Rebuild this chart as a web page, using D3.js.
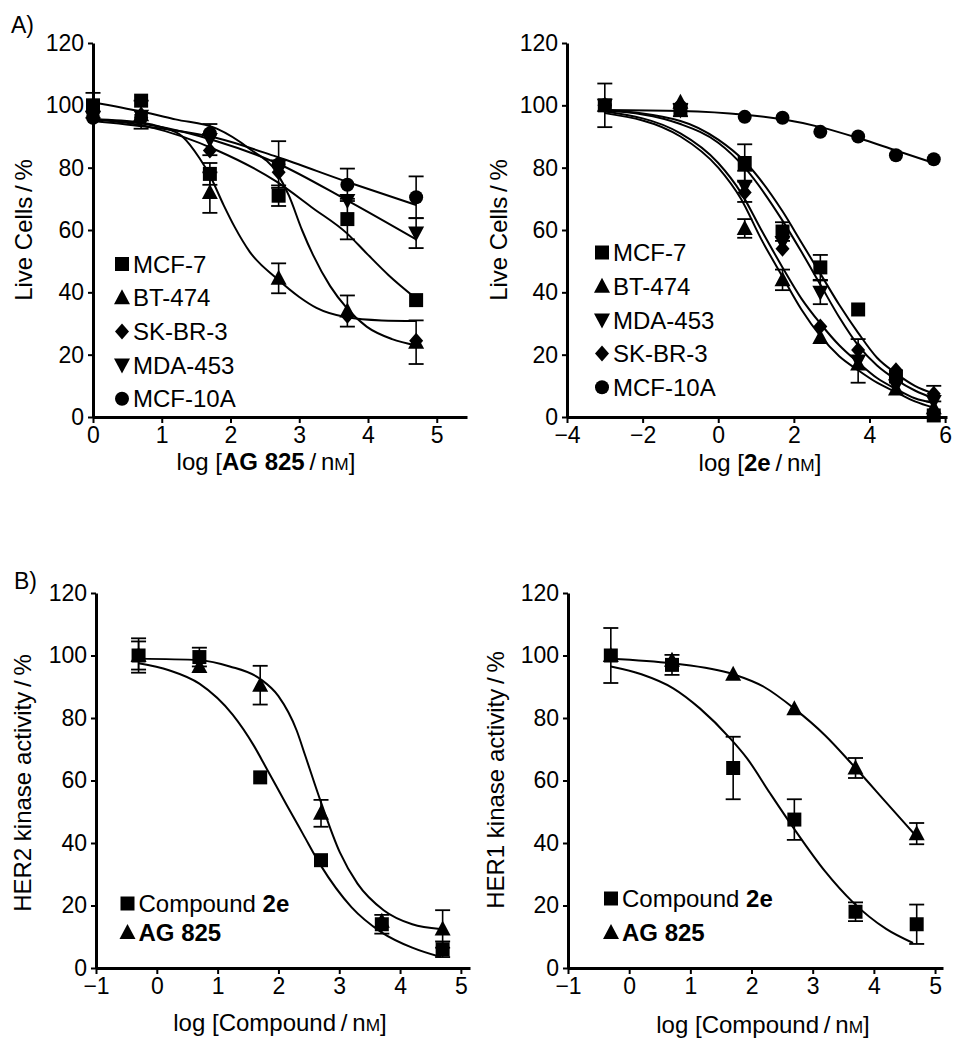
<!DOCTYPE html>
<html>
<head>
<meta charset="utf-8">
<script src="https://cdn.jsdelivr.net/npm/d3@7"></script>
<style>
  body { margin: 0; background: #fff; }
  text { font-family: "Liberation Sans", Arial, Helvetica, sans-serif; fill: #000; }
</style>
</head>
<body>
<svg id="chart" width="954" height="1050"></svg>
<script>
// ---- data ----
var yTicks = [0, 20, 40, 60, 80, 100, 120];

// panel A left : AG 825
var doseA1 = [0, 0.7, 1.7, 2.7, 3.7, 4.7];
var a1Mcf7 = [100, 101.5, 78, 71, 63.5, 37.5];
var a1Mcf7Err = [4, 0, 3.5, 3.3, 6.5, 0];
var a1Bt474 = [100, 97, 72, 44.5, 34, 24];
var a1Bt474Err = [0, 4.5, 6.5, 4.8, 5, 7];
var a1Skbr3 = [96, 97, 85.5, 78.5, 32.5, 24.5];
var a1Skbr3Err = [0, 0, 0, 0, 0, 0];
var a1Mda453 = [96, 96.5, 89, 80.5, 69.5, 59];
var a1Mda453Err = [0, 0, 5, 0, 0, 4.8];
var a1Mcf10a = [96, 96, 91, 81, 74.5, 70.5];
var a1Mcf10aErr = [0, 0, 0, 7.5, 5.2, 6.7];

var a1Mcf7Fit = [[0, 95.5], [0.83, 93], [1.8, 85.6], [2.67, 75.5], [3.2, 67], [3.69, 59], [3.98, 52.5], [4.3, 45.5], [4.7, 38]];
var a1Bt474Fit = [[0, 95.5], [0.7, 94.5], [1.0, 93], [1.3, 90], [1.55, 83], [1.7, 77.5], [1.9, 68], [2.06, 61], [2.28, 53], [2.67, 44.5], [3.0, 38.5], [3.25, 35], [3.69, 32], [4.2, 31], [4.7, 30.8]];
var a1Skbr3Fit = [[0, 101], [0.7, 98], [1.2, 95.5], [1.8, 92.5], [2.28, 86], [2.67, 78.5], [2.85, 71], [3.04, 60], [3.2, 52], [3.45, 42], [3.69, 35], [3.98, 29], [4.35, 25], [4.7, 23]];
var a1Mda453Fit = [[0, 95.5], [0.83, 93.7], [1.8, 88.5], [2.67, 81.5], [3.69, 69.6], [4.7, 57]];
var a1Mcf10aFit = [[0, 95], [0.83, 93], [1.8, 89.5], [2.67, 83.5], [3.69, 75.5], [4.7, 68]];

// panel A right : 2e
var doseA2 = [-3, -1, 0.7, 1.7, 2.7, 3.7, 4.7, 5.7];
var a2Mcf7 = [100, 98.5, 81.5, 59.5, 48, 34.5, 13, 0.5];
var a2Mcf7Err = [7, 0, 6, 3, 4, 0, 0, 0];
var a2Bt474 = [100, 101, 60.5, 44, 25.5, 17, 9, 3];
var a2Bt474Err = [0, 0, 3, 3.3, 0, 0, 0, 0];
var a2Mda453 = [100, 98.5, 74, 56, 40, 18, 10, 5];
var a2Mda453Err = [0, 2, 5, 0, 3.8, 7, 0, 0];
var a2Skbr3 = [100, 99, 72, 54, 29, 21.5, 15, 7.5];
var a2Skbr3Err = [0, 0, 0, 0, 0, 0, 0, 2.5];
var a2Mcf10a = [100, 99.5, 96.3, 96, 91.5, 90, 84, 82.7];
var a2Mcf10aErr = [0, 0, 0, 0, 0, 0, 0, 0];

var a2Mcf7Fit = [[-3, 98.5], [-1, 95], [0, 89], [0.7, 82], [1.7, 66], [2.2, 56], [2.7, 46], [3.2, 36], [3.7, 27], [4.2, 19], [4.7, 14], [5.2, 10], [5.7, 7.5]];
var a2Mda453Fit = [[-3, 98.5], [-1, 94], [0, 88], [0.7, 80], [1.7, 63], [2.2, 53], [2.7, 42.5], [3.2, 32], [3.7, 23], [4.2, 16.5], [4.7, 12], [5.2, 8.5], [5.7, 6]];
var a2Skbr3Fit = [[-3, 98], [-1, 91], [0, 81.5], [0.6, 72], [1.14, 60], [1.7, 48], [2.2, 38], [2.7, 30], [3.2, 23], [3.7, 17.5], [4.2, 12.5], [4.7, 9], [5.2, 6], [5.7, 4.5]];
var a2Bt474Fit = [[-3, 97.5], [-1, 90], [0, 80], [0.6, 70], [1.14, 57], [1.7, 45], [2.2, 34.5], [2.7, 26], [3.2, 19.5], [3.7, 15], [4.2, 11], [4.7, 8], [5.2, 5], [5.7, 3]];
var a2Mcf10aFit = [[-3, 98.5], [-1, 98.2], [0.7, 97], [1.7, 95.5], [2.7, 93], [3.7, 89.5], [4.7, 85.5], [5.7, 81.5]];

// panel B : kinase assays
var doseB = [-0.3, 0.7, 1.7, 2.7, 3.7, 4.7];
var b1Cmpd = [100, 99.5, 61, 34.5, 14, 6];
var b1CmpdErr = [5.5, 3, 0, 0, 3, 2.5];
var b1Ag = [100, 96.5, 90.5, 49.5, 15, 12.5];
var b1AgErr = [4.5, 0, 6.2, 4.3, 0, 6];
var b1CmpdFit = [[-0.3, 97.5], [0.2, 95.3], [0.7, 91], [1.25, 81], [1.6, 71], [1.8, 64], [2.14, 52], [2.4, 43], [2.69, 33], [3.2, 19.5], [3.69, 11.5], [4.2, 6.5], [4.67, 3.5]];
var b1AgFit = [[-0.3, 99], [0.7, 98.5], [1.2, 96.5], [1.7, 92.5], [2.0, 87], [2.3, 76], [2.44, 68], [2.7, 53], [3.01, 37], [3.3, 27], [3.73, 18.5], [4.2, 14], [4.66, 12.5]];

var b2Cmpd = [100, 97, 64, 47.5, 18, 14];
var b2CmpdErr = [8.8, 3.2, 10, 6.5, 3, 6.3];
var b2Ag = [100, 98.5, 94, 83, 64, 43];
var b2AgErr = [0, 0, 0, 0, 3.2, 3.4];
var b2CmpdFit = [[-0.3, 96.5], [0.2, 94], [0.72, 89.5], [1.16, 83], [1.65, 73.5], [1.93, 67], [2.3, 56], [2.68, 45], [3.2, 31], [3.66, 21], [4.2, 12.5], [4.64, 8]];
var b2AgFit = [[-0.3, 99], [0.7, 97.5], [1.7, 94], [2.2, 90], [2.7, 83], [3.2, 74.5], [3.7, 64], [4.2, 53], [4.7, 42]];

// ---- drawing ----
var svg = d3.select("#chart");
var fontSize = "24px";
var tickFont = "23px";

function symbolPath(type) {
  if (type == "square") return "M-7,-7h14v14h-14Z";
  if (type == "up") return "M0,-8.5L8,6.5L-8,6.5Z";
  if (type == "down") return "M0,8.5L8,-6.5L-8,-6.5Z";
  if (type == "diamond") return "M0,-8L7,0L0,8L-7,0Z";
  return "M7,0A7,7 0 1,1 -7,0A7,7 0 1,1 7,0Z";
}

function addParts(sel, parts) {
  parts.forEach(function(p) {
    var t = sel.append("tspan").text(p.t);
    if (p.b) t.style("font-weight", "bold");
    if (p.small) t.style("font-size", "0.72em");
  });
}

function drawPanel(p) {
  var x = d3.scaleLinear().domain(p.xDomain).range(p.xRange);
  var y = d3.scaleLinear().domain([0, 120]).range(p.yRange);
  var g = svg.append("g");

  var line = d3.line()
      .x(function(d) { return x(d[0]); })
      .y(function(d) { return y(d[1]); })
      .curve(d3.curveMonotoneX);

  // fitted curves
  p.series.forEach(function(s) {
    g.append("path")
      .attr("d", line(s.fit))
      .attr("fill", "none")
      .attr("stroke", "#000")
      .attr("stroke-width", 2);
  });

  // error bars
  p.series.forEach(function(s) {
    s.y.forEach(function(v, i) {
      var e = s.err[i];
      if (!e) return;
      var cx = x(s.x[i]);
      g.append("line").attr("x1", cx).attr("x2", cx)
        .attr("y1", y(v - e)).attr("y2", y(v + e))
        .attr("stroke", "#000").attr("stroke-width", 1.6);
      [v - e, v + e].forEach(function(w) {
        g.append("line").attr("x1", cx - 7.5).attr("x2", cx + 7.5)
          .attr("y1", y(w)).attr("y2", y(w))
          .attr("stroke", "#000").attr("stroke-width", 1.8);
      });
    });
  });

  // markers (drawn in reverse so first series ends on top)
  p.series.slice().reverse().forEach(function(s) {
    g.selectAll(null)
      .data(s.y)
      .enter().append("path")
      .attr("d", symbolPath(s.sym))
      .attr("transform", function(d, i) { return "translate(" + x(s.x[i]) + "," + y(d) + ")"; })
      .attr("fill", "#000");
  });

  // axes
  var yAxis = g.append("g")
    .attr("transform", "translate(" + p.xRange[0] + ",0)")
    .call(d3.axisLeft(y).tickValues(yTicks).tickFormat(d3.format("d"))
      .tickSize(5).tickSizeOuter(0).tickPadding(4));
  var xAxis = g.append("g")
    .attr("transform", "translate(0," + p.yRange[0] + ")")
    .call(d3.axisBottom(x).tickValues(p.xTicks).tickFormat(d3.format("d"))
      .tickSize(6).tickSizeOuter(0).tickPadding(4));

  [yAxis, xAxis].forEach(function(a) {
    a.attr("font-family", null).attr("font-size", null);
    a.select(".domain").attr("stroke", "#000").attr("stroke-width", 3);
    a.selectAll(".tick line").attr("stroke", "#000").attr("stroke-width", 2);
    a.selectAll(".tick text").style("font-size", tickFont).attr("fill", "#000");
  });

  // axis titles
  var yt = g.append("text")
    .attr("transform", "translate(" + p.yTitlePos[0] + "," + p.yTitlePos[1] + ") rotate(-90)")
    .attr("text-anchor", "middle")
    .attr("dy", "0.35em")
    .style("font-size", fontSize);
  addParts(yt, p.yTitle);

  var xt = g.append("text")
    .attr("x", p.xTitlePos[0]).attr("y", p.xTitlePos[1])
    .attr("text-anchor", "middle")
    .style("font-size", fontSize);
  addParts(xt, p.xTitle);

  // legend
  p.legendOrder.forEach(function(s, i) {
    var ly = p.legendPos[1] + i * p.legendStep;
    g.append("path")
      .attr("d", symbolPath(s.sym))
      .attr("transform", "translate(" + p.legendPos[0] + "," + ly + ")")
      .attr("fill", "#000");
    var t = g.append("text")
      .attr("x", p.legendPos[0] + 11).attr("y", ly)
      .attr("dy", "0.36em")
      .style("font-size", fontSize);
    addParts(t, s.label);
  });
}

var nM = [{t: "\u2009/\u2009n"}, {t: "M", small: true}, {t: "]"}];

var a1Series = [
  {label: [{t: "MCF-7"}], sym: "square", x: doseA1, y: a1Mcf7, err: a1Mcf7Err, fit: a1Mcf7Fit},
  {label: [{t: "BT-474"}], sym: "up", x: doseA1, y: a1Bt474, err: a1Bt474Err, fit: a1Bt474Fit},
  {label: [{t: "SK-BR-3"}], sym: "diamond", x: doseA1, y: a1Skbr3, err: a1Skbr3Err, fit: a1Skbr3Fit},
  {label: [{t: "MDA-453"}], sym: "down", x: doseA1, y: a1Mda453, err: a1Mda453Err, fit: a1Mda453Fit},
  {label: [{t: "MCF-10A"}], sym: "circle", x: doseA1, y: a1Mcf10a, err: a1Mcf10aErr, fit: a1Mcf10aFit}
];

var a2Series = [
  {label: [{t: "MCF-7"}], sym: "square", x: doseA2, y: a2Mcf7, err: a2Mcf7Err, fit: a2Mcf7Fit},
  {label: [{t: "BT-474"}], sym: "up", x: doseA2, y: a2Bt474, err: a2Bt474Err, fit: a2Bt474Fit},
  {label: [{t: "MDA-453"}], sym: "down", x: doseA2, y: a2Mda453, err: a2Mda453Err, fit: a2Mda453Fit},
  {label: [{t: "SK-BR-3"}], sym: "diamond", x: doseA2, y: a2Skbr3, err: a2Skbr3Err, fit: a2Skbr3Fit},
  {label: [{t: "MCF-10A"}], sym: "circle", x: doseA2, y: a2Mcf10a, err: a2Mcf10aErr, fit: a2Mcf10aFit}
];

var b1Series = [
  {label: [{t: "Compound "}, {t: "2e", b: true}], sym: "square", x: doseB, y: b1Cmpd, err: b1CmpdErr, fit: b1CmpdFit},
  {label: [{t: "AG 825", b: true}], sym: "up", x: doseB, y: b1Ag, err: b1AgErr, fit: b1AgFit}
];
var b2Series = [
  {label: [{t: "Compound "}, {t: "2e", b: true}], sym: "square", x: doseB, y: b2Cmpd, err: b2CmpdErr, fit: b2CmpdFit},
  {label: [{t: "AG 825", b: true}], sym: "up", x: doseB, y: b2Ag, err: b2AgErr, fit: b2AgFit}
];

var panels = [
  {xDomain: [0, 5.44], xRange: [93, 467], yRange: [417, 43], xTicks: [0, 1, 2, 3, 4, 5],
   series: a1Series, legendOrder: a1Series, legendPos: [122, 264], legendStep: 33.7,
   yTitle: [{t: "Live Cells\u2009/\u2009%"}], yTitlePos: [24, 230],
   xTitle: [{t: "log ["}, {t: "AG 825", b: true}].concat(nM), xTitlePos: [266, 470]},
  {xDomain: [-4, 6.05], xRange: [567, 947], yRange: [417, 43], xTicks: [-4, -2, 0, 2, 4, 6],
   series: a2Series, legendOrder: a2Series, legendPos: [602, 252.5], legendStep: 33.7,
   yTitle: [{t: "Live Cells\u2009/\u2009%"}], yTitlePos: [499, 230],
   xTitle: [{t: "log ["}, {t: "2e", b: true}].concat(nM), xTitlePos: [760, 471]},
  {xDomain: [-1, 5.15], xRange: [96, 470], yRange: [968, 593], xTicks: [-1, 0, 1, 2, 3, 4, 5],
   series: b1Series, legendOrder: b1Series, legendPos: [127.5, 903.5], legendStep: 29,
   yTitle: [{t: "HER2 kinase activity\u2009/\u2009%"}], yTitlePos: [23, 783],
   xTitle: [{t: "log [Compound"}].concat(nM), xTitlePos: [280, 1031]},
  {xDomain: [-1, 5.13], xRange: [568, 943], yRange: [968, 593], xTicks: [-1, 0, 1, 2, 3, 4, 5],
   series: b2Series, legendOrder: b2Series, legendPos: [611, 898.5], legendStep: 34,
   yTitle: [{t: "HER1 kinase activity\u2009/\u2009%"}], yTitlePos: [496, 780],
   xTitle: [{t: "log [Compound"}].concat(nM), xTitlePos: [763, 1033]}
];

panels.forEach(drawPanel);

svg.append("text").attr("x", 11).attr("y", 33).style("font-size", "23px").text("A)");
svg.append("text").attr("x", 14).attr("y", 589).style("font-size", "23px").text("B)");
</script>
</body>
</html>
